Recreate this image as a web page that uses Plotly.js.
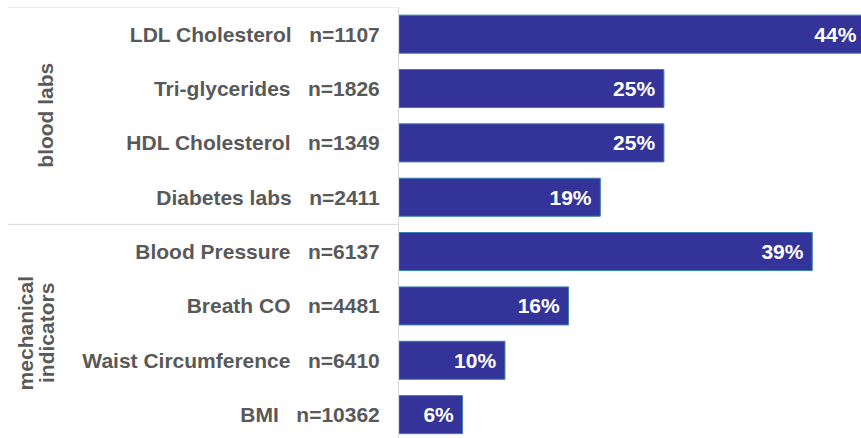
<!DOCTYPE html>
<html>
<head>
<meta charset="utf-8">
<script src="https://cdn.plot.ly/plotly-3.0.1.min.js"></script>
<style>
  html, body { margin: 0; padding: 0; background: #ffffff; overflow: hidden; }
  #chart { width: 861px; height: 438px; }
</style>
</head>
<body>
<div id="chart"></div>
<script>
// Measures, sample sizes and share of patients (%)
const measures = [
  'LDL Cholesterol', 'Tri-glycerides', 'HDL Cholesterol', 'Diabetes labs',
  'Blood Pressure', 'Breath CO', 'Waist Circumference', 'BMI'
];
const sampleSizes = [1107, 1826, 1349, 2411, 6137, 4481, 6410, 10362];
const percents = [44, 25, 25, 19, 39, 16, 10, 6];

// Group labels shown to the left of the category labels
const groupNames = ['blood labs', 'mechanical', 'indicators'];

// Category label = measure name followed by its n
const SP = '\u00a0\u00a0\u00a0';
const tickLabels = measures.map((m, i) => m + SP + 'n=' + sampleSizes[i]);

const FONT = 'Arial, "Liberation Sans", Helvetica, sans-serif';
const GRAY = '#595959';
const RULE = '#d9d9d9';

// Pixel geometry of the figure
const W = 861, H = 438, L = 399;
const plotW = W - L;
const px2paper = px => (px - L) / plotW;

const labelFont = { family: FONT, size: 21, color: GRAY, weight: 700 };

const trace = {
  type: 'bar',
  orientation: 'h',
  y: tickLabels,
  x: percents,
  marker: { color: '#333399', line: { color: '#3a80b6', width: 1 } },
  texttemplate: '%{x}%\u00a0',
  textposition: 'inside',
  insidetextanchor: 'end',
  textangle: 0,
  textfont: { family: FONT, size: 21, color: '#ffffff', weight: 700 },
  cliponaxis: true,
  hoverinfo: 'skip'
};

const layout = {
  width: W,
  height: H,
  margin: { l: L, r: 0, t: 7, b: 0, pad: 0 },
  paper_bgcolor: '#ffffff',
  plot_bgcolor: '#ffffff',
  showlegend: false,
  bargap: 0.3,
  font: { family: FONT, color: GRAY },
  xaxis: {
    range: [0, 43.6],
    visible: false,
    fixedrange: true
  },
  yaxis: {
    type: 'category',
    range: [7.43, -0.5],
    showline: true,
    linecolor: RULE,
    linewidth: 1,
    showgrid: false,
    zeroline: false,
    ticks: '',
    ticklabelstandoff: 14,
    tickfont: labelFont,
    fixedrange: true
  },
  shapes: [
    // rule across the top of the category column
    { type: 'line', xref: 'paper', yref: 'y', x0: px2paper(8), x1: 0, y0: -0.5, y1: -0.5,
      line: { color: RULE, width: 1 } },
    // rule separating the two groups
    { type: 'line', xref: 'paper', yref: 'y', x0: px2paper(8), x1: 0, y0: 3.5, y1: 3.5,
      line: { color: RULE, width: 1 } }
  ],
  annotations: [
    { text: groupNames[0], xref: 'paper', yref: 'y', x: px2paper(46), y: 1.5,
      textangle: -90, showarrow: false, xanchor: 'center', yanchor: 'middle', font: labelFont },
    { text: groupNames[1], xref: 'paper', yref: 'y', x: px2paper(25.3), y: 5.5,
      textangle: -90, showarrow: false, xanchor: 'center', yanchor: 'middle', font: labelFont },
    { text: groupNames[2], xref: 'paper', yref: 'y', x: px2paper(45.9), y: 5.5,
      textangle: -90, showarrow: false, xanchor: 'center', yanchor: 'middle', font: labelFont }
  ]
};

Plotly.newPlot('chart', [trace], layout, { staticPlot: true, displayModeBar: false });
</script>
</body>
</html>
